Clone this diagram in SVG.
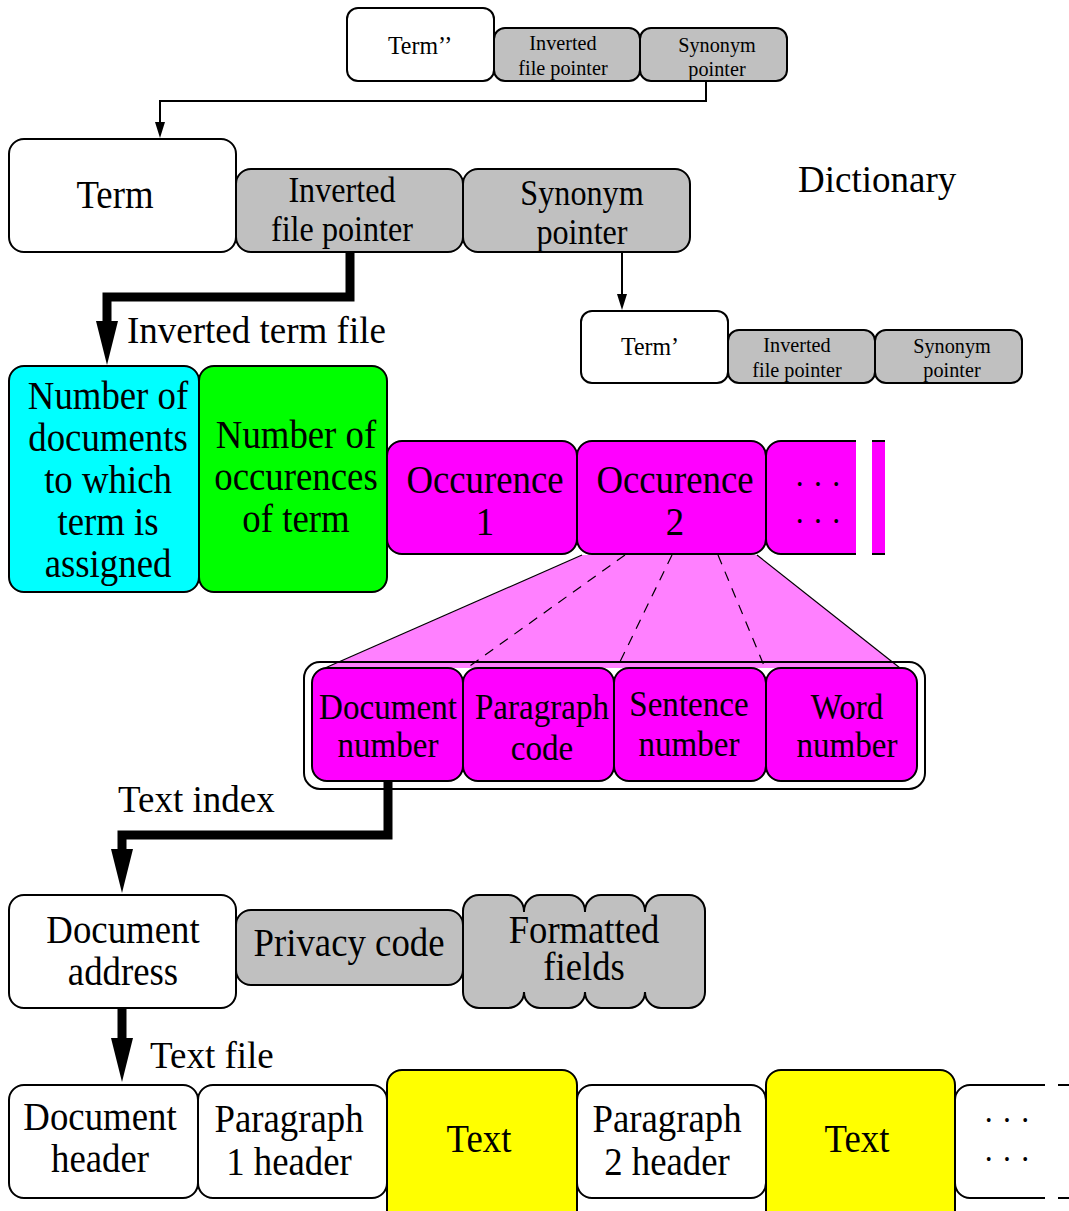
<svg xmlns="http://www.w3.org/2000/svg" width="1069" height="1211" viewBox="0 0 1069 1211">
  <style>
    .box { stroke: #000; stroke-width: 2; }
    .w { fill: #fff; }
    .g { fill: #c0c0c0; }
    .m { fill: #ff00ff; }
    .c { fill: #00ffff; }
    .gr { fill: #00ff00; }
    .y { fill: #ffff00; }
    text { font-family: "Liberation Serif", "Times New Roman", serif; fill: #000; text-anchor: middle; }
    .lbl { text-anchor: start; font-size: 37px; }
    .big { font-size: 40px; }
    .ff { font-size: 39px; }
    .dots { font-size: 34px; }
    .mid { font-size: 35px; }
    .inr { font-size: 36px; }
    .sm { font-size: 22px; }
    .smt { font-size: 26px; }
    .thin { fill: none; stroke: #000; stroke-width: 2; }
    .thick { fill: none; stroke: #000; stroke-width: 9; }
    .fanline { fill: none; stroke: #000; stroke-width: 1.2; }
    .dash { stroke-dasharray: 10 8; }
  </style>
  <defs>
    <marker id="arrThin" markerUnits="userSpaceOnUse" markerWidth="16" markerHeight="10" viewBox="0 0 16 10" refX="0" refY="5" orient="auto">
      <path d="M0,0 L16,5 L0,10 z" fill="#000"/>
    </marker>
    <marker id="arrThick" markerUnits="userSpaceOnUse" markerWidth="44" markerHeight="22" viewBox="0 0 44 22" refX="0" refY="11" orient="auto">
      <path d="M0,0 L44,11 L0,22 z" fill="#000"/>
    </marker>
    <clipPath id="clipOcc"><rect x="760" y="430" width="125" height="140"/></clipPath>
    <clipPath id="clipLast"><rect x="950" y="1075" width="119" height="130"/></clipPath>
  </defs>

  <!-- dictionary entry Term'' -->
  <g id="term2">
    <rect class="box w" x="347" y="8" width="147" height="73" rx="11"/>
    <text class="smt" transform="translate(420 54) scale(.92 1)">Term’’</text>
  </g>
  <g id="inv2">
    <rect class="box g" x="494" y="28" width="146" height="53" rx="11"/>
    <text class="sm" transform="translate(563 50) scale(.92 1)"><tspan x="0">Inverted</tspan><tspan x="0" dy="25">file pointer</tspan></text>
  </g>
  <g id="syn2">
    <rect class="box g" x="640" y="28" width="147" height="53" rx="11"/>
    <text class="sm" transform="translate(717 52) scale(.92 1)"><tspan x="0">Synonym</tspan><tspan x="0" dy="24">pointer</tspan></text>
  </g>

  <!-- dictionary entry Term -->
  <g id="term">
    <rect class="box w" x="9" y="139" width="227" height="113" rx="15"/>
    <text class="big" transform="translate(115 208) scale(.92 1)">Term</text>
  </g>
  <g id="inv">
    <rect class="box g" x="236" y="169" width="227" height="83" rx="15"/>
    <text class="mid" transform="translate(342 202) scale(.92 1)"><tspan x="0">Inverted</tspan><tspan x="0" dy="39">file pointer</tspan></text>
  </g>
  <g id="syn">
    <rect class="box g" x="463" y="169" width="227" height="83" rx="15"/>
    <text class="mid" transform="translate(582 205) scale(.92 1)"><tspan x="0">Synonym</tspan><tspan x="0" dy="39">pointer</tspan></text>
  </g>

  <g id="dictionary-label">
    <text class="lbl" x="798" y="192">Dictionary</text>
  </g>

  <!-- dictionary entry Term' -->
  <g id="term1">
    <rect class="box w" x="581" y="311" width="147" height="72" rx="11"/>
    <text class="smt" transform="translate(650 355) scale(.92 1)">Term’</text>
  </g>
  <g id="inv1">
    <rect class="box g" x="728" y="330" width="147" height="53" rx="11"/>
    <text class="sm" transform="translate(797 352) scale(.92 1)"><tspan x="0">Inverted</tspan><tspan x="0" dy="25">file pointer</tspan></text>
  </g>
  <g id="syn1">
    <rect class="box g" x="875" y="330" width="147" height="53" rx="11"/>
    <text class="sm" transform="translate(952 353) scale(.92 1)"><tspan x="0">Synonym</tspan><tspan x="0" dy="24">pointer</tspan></text>
  </g>

  <g id="inverted-label">
    <text class="lbl" x="127" y="343">Inverted term file</text>
  </g>

  <!-- inverted term file record -->
  <g id="ndocs">
    <rect class="box c" x="9" y="366" width="190" height="226" rx="15"/>
    <text class="big" transform="translate(108 409) scale(.92 1)"><tspan x="0">Number of</tspan><tspan x="0" dy="42">documents</tspan><tspan x="0" dy="42">to which</tspan><tspan x="0" dy="42">term is</tspan><tspan x="0" dy="42">assigned</tspan></text>
  </g>
  <g id="nocc">
    <rect class="box gr" x="199" y="366" width="188" height="226" rx="15"/>
    <text class="big" transform="translate(296 448) scale(.92 1)"><tspan x="0">Number of</tspan><tspan x="0" dy="42">occurences</tspan><tspan x="0" dy="42">of term</tspan></text>
  </g>

  <!-- expansion of occurence 2 -->
  <g id="occ-detail">
    <rect class="w" x="304" y="662" width="621" height="127" rx="16"/>
    <polygon points="582,555 757,555 900,668 325,668" fill="#ff80ff"/>
    <rect x="304" y="662" width="621" height="127" rx="16" fill="none" stroke="#000" stroke-width="2"/>
    <line class="fanline" x1="582" y1="555" x2="325" y2="668"/>
    <line class="fanline dash" x1="625" y1="555" x2="467" y2="668"/>
    <line class="fanline dash" x1="672" y1="555" x2="617" y2="668"/>
    <line class="fanline dash" x1="718" y1="555" x2="765" y2="668"/>
    <line class="fanline" x1="757" y1="555" x2="900" y2="668"/>
  </g>

  <g id="occ1">
    <rect class="box m" x="387" y="441" width="190" height="113" rx="15"/>
    <text class="big" transform="translate(485 493) scale(.92 1)"><tspan x="0">Occurence</tspan><tspan x="0" dy="42">1</tspan></text>
  </g>
  <g id="occ2">
    <rect class="box m" x="577" y="441" width="189" height="113" rx="15"/>
    <text class="big" transform="translate(675 493) scale(.92 1)"><tspan x="0">Occurence</tspan><tspan x="0" dy="42">2</tspan></text>
  </g>
  <g id="occ-more">
    <rect class="box m" x="766" y="441" width="190" height="113" rx="15" clip-path="url(#clipOcc)"/>
    <rect x="856" y="436" width="16" height="122" fill="#fff"/>
    <text class="dots" transform="translate(818 495) scale(.92 1)"><tspan x="0">· · ·</tspan><tspan x="0" dy="37">· · ·</tspan></text>
  </g>

  <g id="docnum">
    <rect class="box m" x="312" y="668" width="151" height="113" rx="15"/>
    <text class="inr" transform="translate(388 719) scale(.92 1)"><tspan x="0">Document</tspan><tspan x="0" dy="38">number</tspan></text>
  </g>
  <g id="paracode">
    <rect class="box m" x="463" y="668" width="151" height="113" rx="15"/>
    <text class="inr" transform="translate(542 719) scale(.92 1)"><tspan x="0">Paragraph</tspan><tspan x="0" dy="41">code</tspan></text>
  </g>
  <g id="sentnum">
    <rect class="box m" x="614" y="668" width="152" height="113" rx="15"/>
    <text class="inr" transform="translate(689 716) scale(.92 1)"><tspan x="0">Sentence</tspan><tspan x="0" dy="40">number</tspan></text>
  </g>
  <g id="wordnum">
    <rect class="box m" x="766" y="668" width="151" height="113" rx="15"/>
    <text class="inr" transform="translate(847 719) scale(.92 1)"><tspan x="0">Word</tspan><tspan x="0" dy="38">number</tspan></text>
  </g>

  <g id="textindex-label">
    <text class="lbl" x="118" y="812">Text index</text>
  </g>

  <!-- text index record -->
  <g id="docaddr">
    <rect class="box w" x="9" y="895" width="227" height="113" rx="15"/>
    <text class="big" transform="translate(123 943) scale(.92 1)"><tspan x="0">Document</tspan><tspan x="0" dy="42">address</tspan></text>
  </g>
  <g id="privacy">
    <rect class="box g" x="236" y="910" width="227" height="75" rx="15"/>
    <text class="big" transform="translate(349 956) scale(.92 1)">Privacy code</text>
  </g>
  <g id="fields">
    <rect class="box g" x="463" y="895" width="61" height="113" rx="16"/>
    <rect class="box g" x="524" y="895" width="61" height="113" rx="16"/>
    <rect class="box g" x="585" y="895" width="60" height="113" rx="16"/>
    <rect class="box g" x="645" y="895" width="60" height="113" rx="16"/>
    <rect class="g" x="466" y="912" width="236" height="80"/>
    <text class="ff" transform="translate(584 943) scale(.94 1)"><tspan x="0">Formatted</tspan><tspan x="0" dy="37">fields</tspan></text>
  </g>

  <g id="textfile-label">
    <text class="lbl" x="150" y="1068">Text file</text>
  </g>

  <!-- text file record -->
  <g id="dochdr">
    <rect class="box w" x="9" y="1085" width="189" height="113" rx="15"/>
    <text class="big" transform="translate(100 1130) scale(.92 1)"><tspan x="0">Document</tspan><tspan x="0" dy="42">header</tspan></text>
  </g>
  <g id="p1hdr">
    <rect class="box w" x="198" y="1085" width="189" height="113" rx="15"/>
    <text class="big" transform="translate(289 1132) scale(.92 1)"><tspan x="0">Paragraph</tspan><tspan x="0" dy="43">1 header</tspan></text>
  </g>
  <g id="text1">
    <rect class="box y" x="387" y="1070" width="190" height="160" rx="15"/>
    <text class="big" transform="translate(479 1152) scale(.92 1)">Text</text>
  </g>
  <g id="p2hdr">
    <rect class="box w" x="577" y="1085" width="189" height="113" rx="15"/>
    <text class="big" transform="translate(667 1132) scale(.92 1)"><tspan x="0">Paragraph</tspan><tspan x="0" dy="43">2 header</tspan></text>
  </g>
  <g id="text2">
    <rect class="box y" x="766" y="1070" width="189" height="160" rx="15"/>
    <text class="big" transform="translate(857 1152) scale(.92 1)">Text</text>
  </g>
  <g id="more">
    <rect class="box w" x="955" y="1085" width="160" height="113" rx="15" clip-path="url(#clipLast)"/>
    <rect x="1045" y="1080" width="13" height="124" fill="#fff"/>
    <text class="dots" transform="translate(1007 1131) scale(.92 1)"><tspan x="0">· · ·</tspan><tspan x="0" dy="39">· · ·</tspan></text>
  </g>

  <!-- pointers between records -->
  <g id="connectors">
    <path class="thin" d="M706,81 V101 H160 V122" marker-end="url(#arrThin)"/>
    <path class="thin" d="M622,252 V294" marker-end="url(#arrThin)"/>
    <path class="thick" d="M350,252 V297 H107 V321" marker-end="url(#arrThick)"/>
    <path class="thick" d="M388,781 V835 H122 V849" marker-end="url(#arrThick)"/>
    <path class="thick" d="M122,1008 V1038" marker-end="url(#arrThick)"/>
  </g>
</svg>
